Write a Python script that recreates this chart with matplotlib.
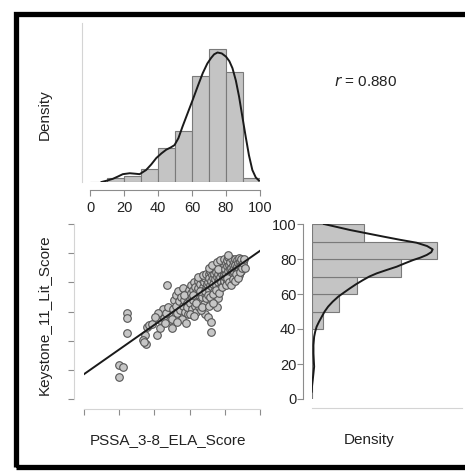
import numpy as np
import matplotlib
matplotlib.use('Agg')
from matplotlib import pyplot as plt
from matplotlib.patches import Rectangle

plt.rcParams['font.family'] = ['Liberation Sans', 'DejaVu Sans']

# PSSA_3-8_ELA_Score (x) vs Keystone_11_Lit_Score (y)
pssa = [20.1, 22.3, 20.1, 24.2, 24.6, 24.2,
        34.7, 33.7, 35.2, 36.0, 37.1, 38.4, 34.1,
        41.3, 43.2, 43.2, 44.1, 44.7, 45.5, 46.6, 47.3, 49.8, 47.9, 48.9, 46.0, 42.2, 40.3,
        50.5, 51.0, 51.5, 52.0, 52.5, 53.0, 53.5, 54.0, 54.5, 55.0, 55.5, 56.0, 56.5, 57.0,
        57.5, 58.0, 58.5, 59.0, 59.5, 60.0, 50.2, 52.8, 56.8, 58.8, 57.7,
        60.5, 60.8, 61.0, 61.3, 61.6, 62.0, 62.2, 62.5, 62.8, 63.0, 63.3, 63.6, 64.0, 64.2,
        64.5, 64.8, 65.0, 65.3, 65.6, 66.0, 66.2, 66.5, 66.8, 67.0, 67.3, 67.6, 68.0, 68.2,
        68.5, 68.8, 69.0, 69.2, 69.5, 69.8, 60.2, 62.4, 64.9, 66.3, 67.8, 63.9, 65.8, 61.9,
        67.1, 68.9, 69.6,
        70.2, 70.5, 70.8, 71.0, 71.2, 71.5, 71.8, 72.0, 72.0, 72.2, 72.5, 72.8, 73.0, 73.2,
        73.5, 73.8, 74.0, 74.2, 74.5, 74.8, 75.0, 75.3, 75.4, 75.6, 76.0, 76.3, 76.3, 76.6,
        77.0, 77.2, 77.5, 77.8, 78.0, 78.2, 78.5, 78.8, 79.0, 79.2, 79.5, 79.8, 70.4, 71.7,
        73.4, 74.9, 76.8, 78.4, 79.6, 71.1, 72.9, 75.8, 77.4, 79.3, 70.9, 73.1, 75.9,
        80.0, 80.3, 80.5, 80.8, 81.0, 81.2, 81.5, 81.8, 82.0, 82.2, 82.5, 82.8, 83.0, 83.2,
        83.5, 83.8, 84.0, 84.2, 84.5, 84.8, 85.0, 85.2, 85.5, 85.8, 86.0, 86.2, 86.5, 86.8,
        87.0, 87.2, 87.5, 87.8, 88.0, 88.2, 88.5, 88.8, 89.0, 89.3, 89.6, 80.6, 81.4, 82.6,
        83.6, 84.6, 85.6, 86.6, 87.6, 88.6, 89.8, 81.9,
        90.5, 91.0, 91.5]
keystone = [23.3, 21.7, 14.9, 59.2, 55.3, 45.5,
            43.9, 40.5, 37.7, 49.6, 50.7, 51.4, 38.9,
            43.9, 48.5, 54.2, 57.6, 61.5, 55.3, 58.7, 78.2, 48.5, 63.3, 54.2, 51.9, 58.7, 56.5,
            62, 68, 57, 71, 64, 59, 74, 67, 61, 70, 55, 64, 76, 68,
            60, 72, 66, 58, 75, 69, 55, 53, 71, 63, 52,
            66, 73, 78, 62, 70, 75, 68, 80, 64, 72, 77, 60, 70, 74,
            81, 66, 76, 71, 63, 79, 73, 68, 82, 75, 70, 77, 65, 80,
            72, 58, 83, 76, 69, 79, 58, 57, 84, 61, 85, 66, 74, 71,
            63, 74, 86,
            56, 80, 86, 75, 83, 78, 88, 53, 46, 81, 85, 77, 89, 83,
            79, 86, 74, 90, 82, 87, 78, 84, 63, 91, 80, 69, 86, 82,
            88, 76, 84, 90, 80, 86, 92, 83, 78, 88, 85, 91, 71, 70,
            72, 75, 73, 77, 81, 90, 92, 94, 95, 96, 64, 66, 89,
            84, 89, 93, 86, 91, 80, 95, 88, 97.6, 84, 92, 89, 86, 94,
            90, 82, 96, 88, 92, 85, 94, 90, 87, 96, 92, 84, 89, 95,
            91, 87, 93, 97, 89, 85, 94, 91, 88, 96, 92, 78, 83, 80,
            78, 82, 81, 86, 83, 87, 90, 99,
            93, 96, 90]

# histogram densities (bins 0-10, ..., 90-100)
bin_left = [0, 10, 20, 30, 40, 50, 60, 70, 80, 90]
pssa_dens = [0, 0.0009, 0.0013, 0.0028, 0.0074, 0.0111, 0.0230, 0.0289, 0.0239, 0.0009]
keystone_dens = [0, 0.0002, 0.0003, 0.0002, 0.0031, 0.0077, 0.0129, 0.0254, 0.0357, 0.0151]

# density curves
pssa_kde_x = [6.8, 10, 13.5, 16.5, 19.3, 23.4, 26.5, 29.2, 33, 36, 39, 42, 44.8, 47.5, 49.7,
              52, 54.4, 57.5, 60.4, 63.4, 66.3, 69, 71.2, 73, 75, 77.5, 80, 82, 83.8, 85.8,
              87.7, 89.7, 91.6, 93.5, 95.5, 97.5, 99.4]
pssa_kde_y = [0.0, 0.0003, 0.0007, 0.0012, 0.0017, 0.0019, 0.0018, 0.0017, 0.0026, 0.0038,
              0.0052, 0.0062, 0.0070, 0.0075, 0.0080, 0.0095, 0.0120, 0.0150, 0.0178, 0.0208,
              0.0236, 0.0257, 0.0269, 0.0277, 0.0281, 0.0279, 0.0272, 0.0262, 0.0247, 0.0220,
              0.0185, 0.0140, 0.0098, 0.0058, 0.0026, 0.0010, 0.0003]
key_kde_y = [100, 98.3, 96.6, 94.7, 92.8, 91, 89.3, 87.4, 85.5, 83.9, 82.3, 80.8, 79.4, 77.5,
             75.6, 73.7, 71.8, 70, 68, 65.6, 63.2, 60.8, 58.5, 55.6, 52.8, 50, 47.1, 44.2,
             41.3, 38.5, 35.6, 30.8, 26, 22, 18.5, 14.7, 10.9, 7.5, 4.2]
key_kde_d = [0.0035, 0.0072, 0.0109, 0.0157, 0.0205, 0.0252, 0.0300, 0.0330, 0.0346, 0.0342,
             0.0329, 0.0311, 0.0290, 0.0266, 0.0243, 0.0214, 0.0186, 0.0165, 0.0147, 0.0127,
             0.0109, 0.0092, 0.0076, 0.0060, 0.0047, 0.0037, 0.0029, 0.0021, 0.0014, 0.0010,
             0.0007, 0.0005, 0.0005, 0.0006, 0.0007, 0.0005, 0.0003, 0.0001, 0.0]

r_text = '0.880'

W, H = 465, 471
BAR = '#c4c4c4'
BAR_EDGE = '#7a7a7a'
AX = '#8c8c8c'
AX_LIGHT = '#d4d4d4'
TXT = '#222222'
FS = 10.5


def box(l, t, r, b):
    return [l / W, 1 - b / H, (r - l) / W, (b - t) / H]


def clean(ax):
    for s in ax.spines.values():
        s.set_visible(False)
    ax.tick_params(colors=AX, labelcolor=TXT, labelsize=FS, width=0.8)


fig = plt.figure(figsize=(W / 100, H / 100), dpi=100)

# top: histogram of PSSA
ax1 = fig.add_axes(box(90, 23, 260, 182))
clean(ax1)
ax1.bar(bin_left, pssa_dens, width=10, align='edge', color=BAR, edgecolor=BAR_EDGE, linewidth=0.8)
ax1.plot(pssa_kde_x, pssa_kde_y, color='#1a1a1a', lw=1.4)
ax1.set_xlim(0, 100)
ax1.set_ylim(0, 0.0345)
ax1.spines['left'].set_visible(True)
ax1.spines['left'].set_color(AX_LIGHT)
ax1.spines['left'].set_position(('outward', 6))
ax1.spines['bottom'].set_visible(True)
ax1.spines['bottom'].set_color(AX)
ax1.spines['bottom'].set_position(('outward', 6))
ax1.set_yticks([])
ax1.set_xticks([0, 20, 40, 60, 80, 100])
ax1.tick_params(axis='x', length=4.5, pad=3)
ax1.patch.set_alpha(0)

# scatter
ax2 = fig.add_axes(box(84, 224, 260, 399))
clean(ax2)
ax2.scatter(pssa, keystone, s=30, facecolor='#c6c6c6', edgecolor='#555555', linewidth=0.8, zorder=2)
slope, intercept = np.polyfit(pssa, keystone, 1)
line_x = np.array([0, 100])
ax2.plot(line_x, intercept + slope * line_x, color='#1a1a1a', lw=1.4, zorder=3)
ax2.set_xlim(0, 100)
ax2.set_ylim(0, 120)
for side in ('left', 'bottom'):
    ax2.spines[side].set_visible(True)
    ax2.spines[side].set_color(AX_LIGHT)
    ax2.spines[side].set_position(('outward', 7))
ax2.set_xticks([0, 20, 40, 60, 80, 100])
ax2.set_yticks([0, 20, 40, 60, 80, 100, 120])
ax2.set_xticklabels([])
ax2.set_yticklabels([])
ax2.tick_params(length=4.5)
ax2.patch.set_alpha(0)

# right: histogram of Keystone
ax3 = fig.add_axes(box(311.7, 224, 461.7, 399))
clean(ax3)
ax3.barh(bin_left, keystone_dens, height=10, align='edge', color=BAR, edgecolor=BAR_EDGE, linewidth=0.8)
ax3.plot(key_kde_d, key_kde_y, color='#1a1a1a', lw=1.4)
ax3.set_ylim(0, 100)
ax3.set_xlim(0, 0.0429)
ax3.spines['left'].set_visible(True)
ax3.spines['left'].set_color(AX)
ax3.spines['left'].set_position(('outward', 6))
ax3.spines['bottom'].set_visible(True)
ax3.spines['bottom'].set_color(AX_LIGHT)
ax3.spines['bottom'].set_position(('outward', 6.5))
ax3.set_xticks([])
ax3.set_yticks([0, 20, 40, 60, 80, 100])
ax3.tick_params(axis='y', length=4, pad=1)
ax3.patch.set_alpha(0)

# labels
fig.text(45 / W, 1 - 115 / H, 'Density', rotation=90, ha='center', va='center', fontsize=11, color=TXT)
fig.text(45 / W, 1 - 315 / H, 'Keystone_11_Lit_Score', rotation=90, ha='center', va='center',
         fontsize=11, color=TXT)
fig.text(168 / W, 1 - 440 / H, 'PSSA_3-8_ELA_Score', ha='center', va='center', fontsize=11, color=TXT)
fig.text(369 / W, 1 - 440 / H, 'Density', ha='center', va='center', fontsize=11, color=TXT)
fig.text(366 / W, 1 - 82 / H, r'$r$ = ' + r_text, ha='center', va='center', fontsize=11, color=TXT)

# frame around the panel, its right side runs off the picture
fig.patches.append(Rectangle((15.5 / W, 1 - 466.5 / H), 500 / W, 453 / H, transform=fig.transFigure,
                             fill=False, edgecolor='black', linewidth=3.8))

fig.savefig('out.png', dpi=100)
